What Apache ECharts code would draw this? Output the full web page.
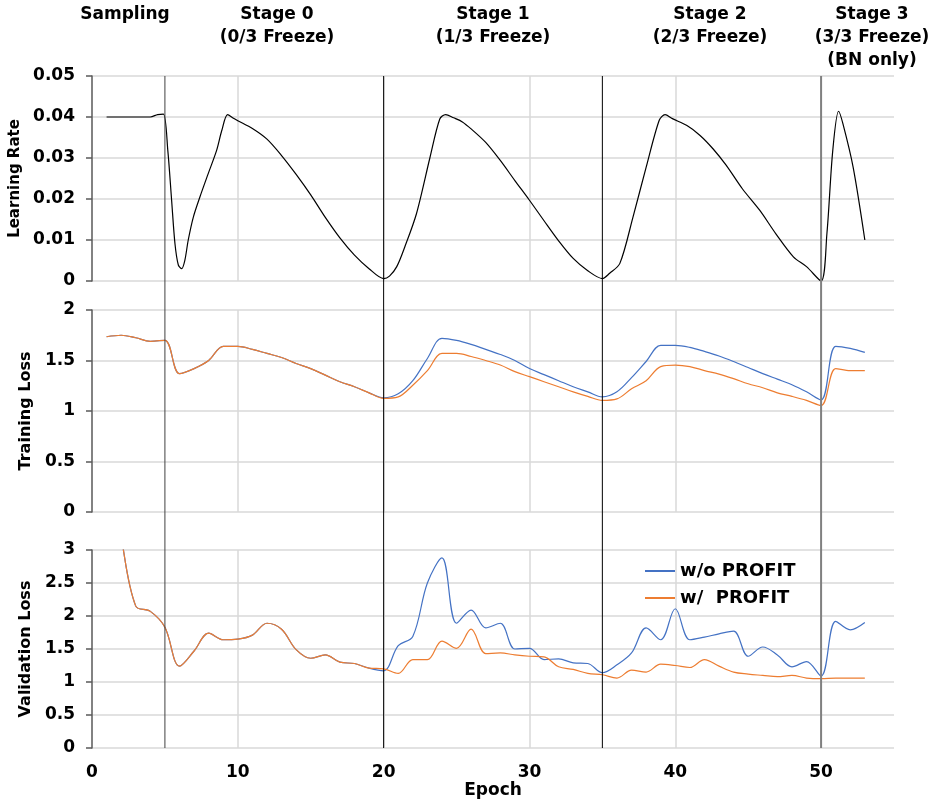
<!DOCTYPE html>
<html>
<head>
<meta charset="utf-8">
<title>PROFIT training stages</title>
<script src="https://cdn.jsdelivr.net/npm/echarts@6/dist/echarts.min.js"></script>
<style>
  html,body{margin:0;padding:0;background:#fff;}
  #main{width:935px;height:800px;}
</style>
</head>
<body>
<div id="main"></div>
<script>
var FONT = 'DejaVu Sans';

// learning rate, read at (sub-)epoch positions
var lrEpochs = [1,2,3,4,4.5,4.9,5.2,5.46,5.69,5.92,6.15,6.37,6.6,6.95,7.4,7.97,8.54,8.9,9.3,9.7,10,11,12,13,14,15,16,17,18,19,20,
  20.4,20.9,21.45,22.25,23.17,23.85,24.25,24.8,25.4,26,27,28,29,30,31,32,33,34,35,
  35.5,36.2,37.1,38,38.9,39.3,39.8,40.8,41.7,42.6,43.5,44.6,45.8,46.9,48.1,49,50,50.4,50.8,51.2,51.5,52.2,53];
var lrValues = [0.040,0.040,0.040,0.040,0.0406,0.0407,0.0318,0.0197,0.0091,0.0039,0.0030,0.0051,0.0100,0.0156,0.0205,0.0262,0.0318,0.0367,0.0406,0.0397,0.0391,0.0372,0.0346,0.0306,0.0260,0.0210,0.0155,0.0105,0.0063,0.0030,0.0006,
  0.0012,0.0035,0.0083,0.0164,0.0300,0.0395,0.0406,0.0398,0.0388,0.0371,0.0338,0.0294,0.0245,0.0197,0.0147,0.0098,0.0055,0.0025,0.0006,
  0.0019,0.0043,0.0156,0.0277,0.0392,0.0406,0.0396,0.0379,0.0355,0.0322,0.0282,0.0225,0.0172,0.0115,0.0059,0.0035,0.0000,0.0116,0.0318,0.0414,0.0383,0.0277,0.0100];

// training / validation loss, epochs 1..53
var trainNoProfit = [1.735,1.75,1.725,1.69,1.70,1.37,1.42,1.50,1.64,1.64,1.61,1.57,1.53,1.47,1.42,1.355,1.29,1.24,1.18,1.13,
  1.17,1.30,1.52,1.72,1.70,1.66,1.61,1.56,1.50,1.42,1.36,1.30,1.24,1.19,1.14,1.19,1.33,1.49,1.65,1.65,
  1.63,1.59,1.545,1.49,1.43,1.37,1.315,1.26,1.19,1.11,1.64,1.62,1.58];
var trainProfit = [1.735,1.75,1.725,1.69,1.70,1.37,1.42,1.50,1.64,1.64,1.61,1.57,1.53,1.47,1.42,1.355,1.29,1.24,1.18,1.125,
  1.14,1.255,1.40,1.57,1.57,1.54,1.50,1.455,1.39,1.34,1.29,1.24,1.19,1.145,1.105,1.12,1.22,1.30,1.44,1.455,
  1.44,1.40,1.365,1.32,1.27,1.23,1.18,1.145,1.105,1.055,1.42,1.40,1.40];
var valNoProfit = [4.5,3.2,2.15,2.07,1.83,1.24,1.47,1.74,1.64,1.65,1.71,1.89,1.80,1.49,1.36,1.41,1.30,1.28,1.21,1.17,
  1.55,1.69,2.50,2.88,1.89,2.09,1.82,1.89,1.50,1.51,1.34,1.35,1.29,1.28,1.14,1.26,1.44,1.82,1.64,2.11,
  1.64,1.68,1.73,1.77,1.39,1.53,1.41,1.23,1.31,1.09,1.92,1.79,1.90];
var valProfit = [4.5,3.2,2.15,2.07,1.83,1.24,1.47,1.74,1.64,1.65,1.71,1.89,1.80,1.49,1.36,1.41,1.30,1.28,1.21,1.20,
  1.13,1.34,1.34,1.62,1.51,1.80,1.43,1.44,1.41,1.39,1.38,1.23,1.19,1.13,1.11,1.06,1.18,1.15,1.27,1.25,
  1.22,1.34,1.24,1.15,1.12,1.10,1.08,1.10,1.06,1.05,1.06,1.06,1.06];

var stageEpochs = [5, 20, 35, 50];
var stageNames = ['Sampling', 'Stage 0\n(0/3 Freeze)', 'Stage 1\n(1/3 Freeze)', 'Stage 2\n(2/3 Freeze)', 'Stage 3\n(3/3 Freeze)\n(BN only)'];

var stageLineColor = ['#404040', '#000000', '#000000', '#808080'];
var stageLineWidth = [1, 1, 1, 2];
var stageLabelX = [125, 277, 493, 710, 872];

function pairs(xs, ys){
	var out = [];
	for(var i=0;i<ys.length;i++){ out.push([xs[i], ys[i]]); }
	return out;
}
function byEpoch(ys){
	var out = [];
	for(var i=0;i<ys.length;i++){ out.push([i+1, ys[i]]); }
	return out;
}

function xAxisFor(idx, last){
	return {
		type:'value', gridIndex:idx, min:0, max:55, interval:10,
		axisLine:{show:false}, axisTick:{show:false},
		axisLabel:{show:last, showMaxLabel:false, margin:16, color:'#000', fontWeight:'bold', fontSize:17, fontFamily:FONT},
		splitLine:{show:true, showMinLine:false, showMaxLine:false, lineStyle:{color:'#d9d9d9', width:1.5}},
		name: last ? 'Epoch' : '', nameLocation:'middle', nameGap:28,
		nameTextStyle:{color:'#000', fontWeight:'bold', fontSize:17, fontFamily:FONT}
	};
}
function yAxisFor(idx, max, interval, name, gap, size){
	return {
		type:'value', gridIndex:idx, min:0, max:max, interval:interval,
		axisLine:{show:true, lineStyle:{color:'#595959', width:1.5}},
		axisTick:{show:true, length:6, lineStyle:{color:'#595959', width:1.5}},
		axisLabel:{margin:17, color:'#000', fontWeight:'bold', fontSize:17, fontFamily:FONT},
		splitLine:{show:true, lineStyle:{color:'#d9d9d9', width:1.5}},
		name:name, nameLocation:'middle', nameGap:gap, nameRotate:90,
		nameTextStyle:{color:'#000', fontWeight:'bold', fontSize:size, fontFamily:FONT}
	};
}

function lineSeries(name, color, xi, data){
	return {
		name:name, type:'line', xAxisIndex:xi, yAxisIndex:xi,
		data:data, smooth:0.35, symbol:'none', showSymbol:false,
		lineStyle:{color:color, width:1.2}, itemStyle:{color:color}
	};
}

var series = [
	lineSeries('Learning Rate', '#000000', 0, pairs(lrEpochs, lrValues)),
	lineSeries('w/o PROFIT', '#4472c4', 1, byEpoch(trainNoProfit)),
	lineSeries('w/  PROFIT', '#ed7d31', 1, byEpoch(trainProfit)),
	lineSeries('w/o PROFIT', '#4472c4', 2, byEpoch(valNoProfit)),
	lineSeries('w/  PROFIT', '#ed7d31', 2, byEpoch(valProfit))
];
series[0].smooth = 0.3;
for(var s=0;s<stageEpochs.length;s++){
	series.push({
		name:'stage'+s, type:'line', xAxisIndex:3, yAxisIndex:3,
		data:[[stageEpochs[s],0],[stageEpochs[s],1]], symbol:'none', silent:true,
		lineStyle:{color:stageLineColor[s], width:stageLineWidth[s]}, z:5
	});
}

var graphics = [];
for(var g=0;g<stageNames.length;g++){
	graphics.push({
		type:'text', x:stageLabelX[g], y:3,
		style:{text:stageNames[g], textAlign:'center', textVerticalAlign:'top',
			font:'bold 17px "DejaVu Sans"', fill:'#000', lineHeight:23}
	});
}

var option = {
	animation:false,
	backgroundColor:'#fff',
	grid:[
		{left:92, right:41, top:76, height:205, outerBoundsMode:'none'},
		{left:92, right:41, top:310, height:202, outerBoundsMode:'none'},
		{left:92, right:41, top:550, height:198, outerBoundsMode:'none'},
		{left:92, right:41, top:76, height:672, outerBoundsMode:'none'}
	],
	xAxis:[ xAxisFor(0,false), xAxisFor(1,false), xAxisFor(2,true),
		{type:'value', gridIndex:3, min:0, max:55, show:false} ],
	yAxis:[ yAxisFor(0, 0.05, 0.01, 'Learning Rate', 61, 15),
		yAxisFor(1, 2, 0.5, 'Training Loss', 48, 16),
		yAxisFor(2, 3, 0.5, 'Validation Loss', 50, 16),
		{type:'value', gridIndex:3, min:0, max:1, show:false} ],
	legend:{
		data:['w/o PROFIT','w/  PROFIT'], orient:'vertical', left:645, top:561, padding:0,
		itemWidth:30, itemHeight:14, itemGap:7, icon:'path://M0,6 L30,6 L30,8 L0,8 Z',
		textStyle:{color:'#000', fontWeight:'bold', fontSize:18, fontFamily:FONT, lineHeight:20}
	},
	graphic:graphics,
	series:series
};

var chart = echarts.init(document.getElementById('main'));
chart.setOption(option);
</script>
</body>
</html>
